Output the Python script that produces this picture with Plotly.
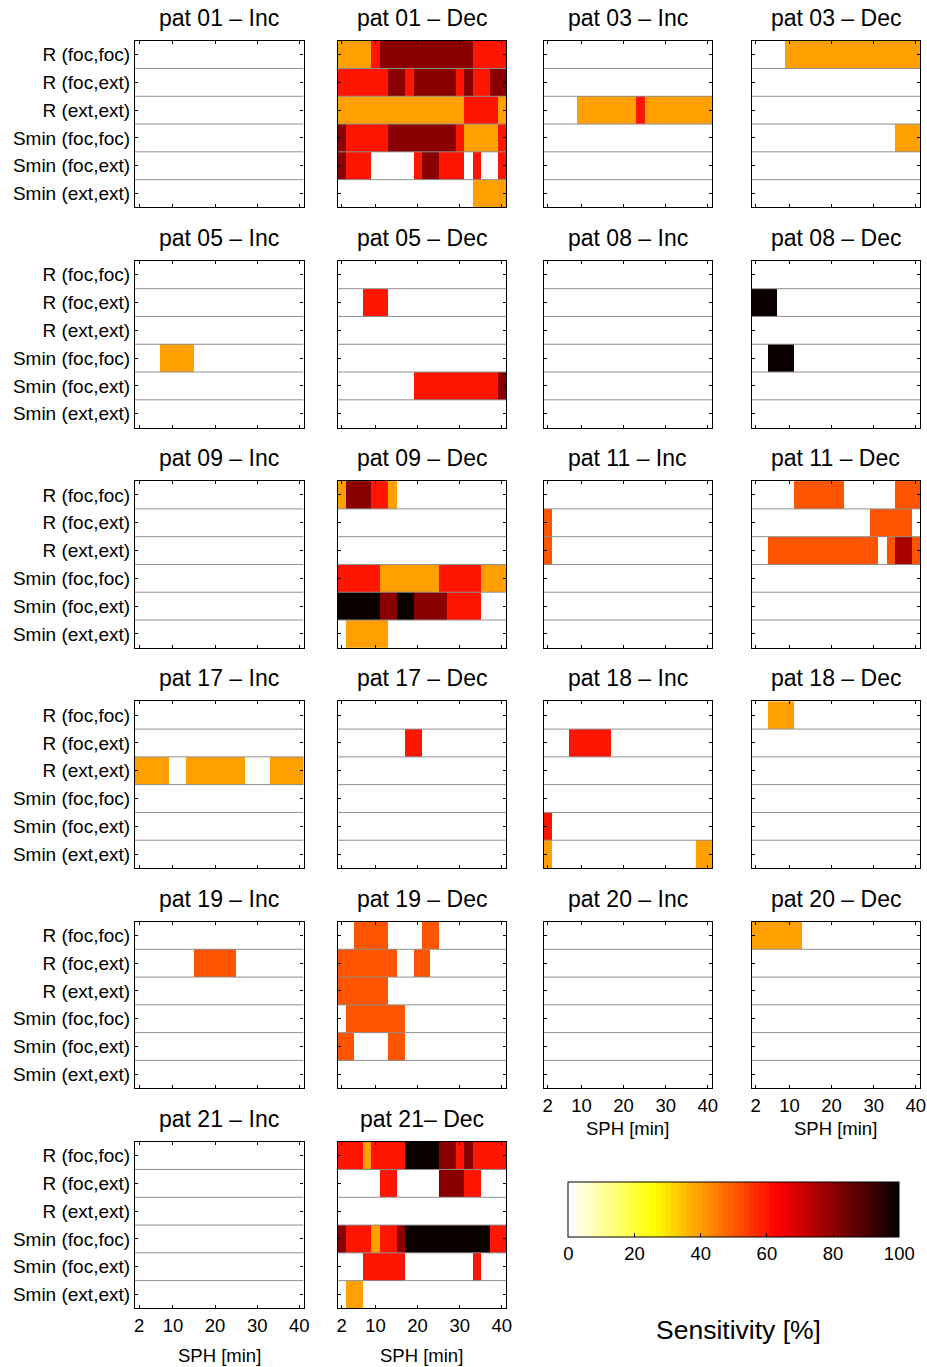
import plotly.graph_objects as go

W, H = 927, 1367
FONT = "Liberation Sans, Arial, Helvetica, sans-serif"

# ---- data ------------------------------------------------------------
SPH = [2, 4, 6, 8, 10, 12, 14, 16, 18, 20, 22, 24, 26, 28, 30, 32, 34, 36, 38, 40]
FEATURES = ["R (foc,foc)", "R (foc,ext)", "R (ext,ext)",
            "Smin (foc,foc)", "Smin (foc,ext)", "Smin (ext,ext)"]
X_TICKS = [2, 10, 20, 30, 40]
CBAR_TICKS = [0, 20, 40, 60, 80, 100]

# sensitivity [%] per feature (rows) and SPH (columns)
pat01_inc = [
    [0, 0, 0, 0, 0, 0, 0, 0, 0, 0, 0, 0, 0, 0, 0, 0, 0, 0, 0, 0],
    [0, 0, 0, 0, 0, 0, 0, 0, 0, 0, 0, 0, 0, 0, 0, 0, 0, 0, 0, 0],
    [0, 0, 0, 0, 0, 0, 0, 0, 0, 0, 0, 0, 0, 0, 0, 0, 0, 0, 0, 0],
    [0, 0, 0, 0, 0, 0, 0, 0, 0, 0, 0, 0, 0, 0, 0, 0, 0, 0, 0, 0],
    [0, 0, 0, 0, 0, 0, 0, 0, 0, 0, 0, 0, 0, 0, 0, 0, 0, 0, 0, 0],
    [0, 0, 0, 0, 0, 0, 0, 0, 0, 0, 0, 0, 0, 0, 0, 0, 0, 0, 0, 0],
]
pat01_dec = [
    [40, 40, 40, 40, 60, 80, 80, 80, 80, 80, 80, 80, 80, 80, 80, 80, 60, 60, 60, 60],
    [60, 60, 60, 60, 60, 60, 80, 80, 60, 80, 80, 80, 80, 80, 60, 80, 60, 60, 80, 80],
    [40, 40, 40, 40, 40, 40, 40, 40, 40, 40, 40, 40, 40, 40, 40, 60, 60, 60, 60, 40],
    [80, 60, 60, 60, 60, 60, 80, 80, 80, 80, 80, 80, 80, 80, 60, 40, 40, 40, 40, 60],
    [80, 60, 60, 60, 0, 0, 0, 0, 0, 60, 80, 80, 60, 60, 60, 0, 60, 0, 0, 60],
    [0, 0, 0, 0, 0, 0, 0, 0, 0, 0, 0, 0, 0, 0, 0, 0, 40, 40, 40, 40],
]
pat03_inc = [
    [0, 0, 0, 0, 0, 0, 0, 0, 0, 0, 0, 0, 0, 0, 0, 0, 0, 0, 0, 0],
    [0, 0, 0, 0, 0, 0, 0, 0, 0, 0, 0, 0, 0, 0, 0, 0, 0, 0, 0, 0],
    [0, 0, 0, 0, 40, 40, 40, 40, 40, 40, 40, 60, 40, 40, 40, 40, 40, 40, 40, 40],
    [0, 0, 0, 0, 0, 0, 0, 0, 0, 0, 0, 0, 0, 0, 0, 0, 0, 0, 0, 0],
    [0, 0, 0, 0, 0, 0, 0, 0, 0, 0, 0, 0, 0, 0, 0, 0, 0, 0, 0, 0],
    [0, 0, 0, 0, 0, 0, 0, 0, 0, 0, 0, 0, 0, 0, 0, 0, 0, 0, 0, 0],
]
pat03_dec = [
    [0, 0, 0, 0, 40, 40, 40, 40, 40, 40, 40, 40, 40, 40, 40, 40, 40, 40, 40, 40],
    [0, 0, 0, 0, 0, 0, 0, 0, 0, 0, 0, 0, 0, 0, 0, 0, 0, 0, 0, 0],
    [0, 0, 0, 0, 0, 0, 0, 0, 0, 0, 0, 0, 0, 0, 0, 0, 0, 0, 0, 0],
    [0, 0, 0, 0, 0, 0, 0, 0, 0, 0, 0, 0, 0, 0, 0, 0, 0, 40, 40, 40],
    [0, 0, 0, 0, 0, 0, 0, 0, 0, 0, 0, 0, 0, 0, 0, 0, 0, 0, 0, 0],
    [0, 0, 0, 0, 0, 0, 0, 0, 0, 0, 0, 0, 0, 0, 0, 0, 0, 0, 0, 0],
]
pat05_inc = [
    [0, 0, 0, 0, 0, 0, 0, 0, 0, 0, 0, 0, 0, 0, 0, 0, 0, 0, 0, 0],
    [0, 0, 0, 0, 0, 0, 0, 0, 0, 0, 0, 0, 0, 0, 0, 0, 0, 0, 0, 0],
    [0, 0, 0, 0, 0, 0, 0, 0, 0, 0, 0, 0, 0, 0, 0, 0, 0, 0, 0, 0],
    [0, 0, 0, 40, 40, 40, 40, 0, 0, 0, 0, 0, 0, 0, 0, 0, 0, 0, 0, 0],
    [0, 0, 0, 0, 0, 0, 0, 0, 0, 0, 0, 0, 0, 0, 0, 0, 0, 0, 0, 0],
    [0, 0, 0, 0, 0, 0, 0, 0, 0, 0, 0, 0, 0, 0, 0, 0, 0, 0, 0, 0],
]
pat05_dec = [
    [0, 0, 0, 0, 0, 0, 0, 0, 0, 0, 0, 0, 0, 0, 0, 0, 0, 0, 0, 0],
    [0, 0, 0, 60, 60, 60, 0, 0, 0, 0, 0, 0, 0, 0, 0, 0, 0, 0, 0, 0],
    [0, 0, 0, 0, 0, 0, 0, 0, 0, 0, 0, 0, 0, 0, 0, 0, 0, 0, 0, 0],
    [0, 0, 0, 0, 0, 0, 0, 0, 0, 0, 0, 0, 0, 0, 0, 0, 0, 0, 0, 0],
    [0, 0, 0, 0, 0, 0, 0, 0, 0, 60, 60, 60, 60, 60, 60, 60, 60, 60, 60, 80],
    [0, 0, 0, 0, 0, 0, 0, 0, 0, 0, 0, 0, 0, 0, 0, 0, 0, 0, 0, 0],
]
pat08_inc = [
    [0, 0, 0, 0, 0, 0, 0, 0, 0, 0, 0, 0, 0, 0, 0, 0, 0, 0, 0, 0],
    [0, 0, 0, 0, 0, 0, 0, 0, 0, 0, 0, 0, 0, 0, 0, 0, 0, 0, 0, 0],
    [0, 0, 0, 0, 0, 0, 0, 0, 0, 0, 0, 0, 0, 0, 0, 0, 0, 0, 0, 0],
    [0, 0, 0, 0, 0, 0, 0, 0, 0, 0, 0, 0, 0, 0, 0, 0, 0, 0, 0, 0],
    [0, 0, 0, 0, 0, 0, 0, 0, 0, 0, 0, 0, 0, 0, 0, 0, 0, 0, 0, 0],
    [0, 0, 0, 0, 0, 0, 0, 0, 0, 0, 0, 0, 0, 0, 0, 0, 0, 0, 0, 0],
]
pat08_dec = [
    [0, 0, 0, 0, 0, 0, 0, 0, 0, 0, 0, 0, 0, 0, 0, 0, 0, 0, 0, 0],
    [100, 100, 100, 0, 0, 0, 0, 0, 0, 0, 0, 0, 0, 0, 0, 0, 0, 0, 0, 0],
    [0, 0, 0, 0, 0, 0, 0, 0, 0, 0, 0, 0, 0, 0, 0, 0, 0, 0, 0, 0],
    [0, 0, 100, 100, 100, 0, 0, 0, 0, 0, 0, 0, 0, 0, 0, 0, 0, 0, 0, 0],
    [0, 0, 0, 0, 0, 0, 0, 0, 0, 0, 0, 0, 0, 0, 0, 0, 0, 0, 0, 0],
    [0, 0, 0, 0, 0, 0, 0, 0, 0, 0, 0, 0, 0, 0, 0, 0, 0, 0, 0, 0],
]
pat09_inc = [
    [0, 0, 0, 0, 0, 0, 0, 0, 0, 0, 0, 0, 0, 0, 0, 0, 0, 0, 0, 0],
    [0, 0, 0, 0, 0, 0, 0, 0, 0, 0, 0, 0, 0, 0, 0, 0, 0, 0, 0, 0],
    [0, 0, 0, 0, 0, 0, 0, 0, 0, 0, 0, 0, 0, 0, 0, 0, 0, 0, 0, 0],
    [0, 0, 0, 0, 0, 0, 0, 0, 0, 0, 0, 0, 0, 0, 0, 0, 0, 0, 0, 0],
    [0, 0, 0, 0, 0, 0, 0, 0, 0, 0, 0, 0, 0, 0, 0, 0, 0, 0, 0, 0],
    [0, 0, 0, 0, 0, 0, 0, 0, 0, 0, 0, 0, 0, 0, 0, 0, 0, 0, 0, 0],
]
pat09_dec = [
    [40, 80, 80, 80, 60, 60, 40, 0, 0, 0, 0, 0, 0, 0, 0, 0, 0, 0, 0, 0],
    [0, 0, 0, 0, 0, 0, 0, 0, 0, 0, 0, 0, 0, 0, 0, 0, 0, 0, 0, 0],
    [0, 0, 0, 0, 0, 0, 0, 0, 0, 0, 0, 0, 0, 0, 0, 0, 0, 0, 0, 0],
    [60, 60, 60, 60, 60, 40, 40, 40, 40, 40, 40, 40, 60, 60, 60, 60, 60, 40, 40, 40],
    [100, 100, 100, 100, 100, 80, 80, 100, 100, 80, 80, 80, 80, 60, 60, 60, 60, 0, 0, 0],
    [0, 40, 40, 40, 40, 40, 0, 0, 0, 0, 0, 0, 0, 0, 0, 0, 0, 0, 0, 0],
]
pat11_inc = [
    [0, 0, 0, 0, 0, 0, 0, 0, 0, 0, 0, 0, 0, 0, 0, 0, 0, 0, 0, 0],
    [50, 0, 0, 0, 0, 0, 0, 0, 0, 0, 0, 0, 0, 0, 0, 0, 0, 0, 0, 0],
    [50, 0, 0, 0, 0, 0, 0, 0, 0, 0, 0, 0, 0, 0, 0, 0, 0, 0, 0, 0],
    [0, 0, 0, 0, 0, 0, 0, 0, 0, 0, 0, 0, 0, 0, 0, 0, 0, 0, 0, 0],
    [0, 0, 0, 0, 0, 0, 0, 0, 0, 0, 0, 0, 0, 0, 0, 0, 0, 0, 0, 0],
    [0, 0, 0, 0, 0, 0, 0, 0, 0, 0, 0, 0, 0, 0, 0, 0, 0, 0, 0, 0],
]
pat11_dec = [
    [0, 0, 0, 0, 0, 50, 50, 50, 50, 50, 50, 0, 0, 0, 0, 0, 0, 50, 50, 50],
    [0, 0, 0, 0, 0, 0, 0, 0, 0, 0, 0, 0, 0, 0, 50, 50, 50, 50, 50, 0],
    [0, 0, 50, 50, 50, 50, 50, 50, 50, 50, 50, 50, 50, 50, 50, 0, 50, 75, 75, 50],
    [0, 0, 0, 0, 0, 0, 0, 0, 0, 0, 0, 0, 0, 0, 0, 0, 0, 0, 0, 0],
    [0, 0, 0, 0, 0, 0, 0, 0, 0, 0, 0, 0, 0, 0, 0, 0, 0, 0, 0, 0],
    [0, 0, 0, 0, 0, 0, 0, 0, 0, 0, 0, 0, 0, 0, 0, 0, 0, 0, 0, 0],
]
pat17_inc = [
    [0, 0, 0, 0, 0, 0, 0, 0, 0, 0, 0, 0, 0, 0, 0, 0, 0, 0, 0, 0],
    [0, 0, 0, 0, 0, 0, 0, 0, 0, 0, 0, 0, 0, 0, 0, 0, 0, 0, 0, 0],
    [40, 40, 40, 40, 0, 0, 40, 40, 40, 40, 40, 40, 40, 0, 0, 0, 40, 40, 40, 40],
    [0, 0, 0, 0, 0, 0, 0, 0, 0, 0, 0, 0, 0, 0, 0, 0, 0, 0, 0, 0],
    [0, 0, 0, 0, 0, 0, 0, 0, 0, 0, 0, 0, 0, 0, 0, 0, 0, 0, 0, 0],
    [0, 0, 0, 0, 0, 0, 0, 0, 0, 0, 0, 0, 0, 0, 0, 0, 0, 0, 0, 0],
]
pat17_dec = [
    [0, 0, 0, 0, 0, 0, 0, 0, 0, 0, 0, 0, 0, 0, 0, 0, 0, 0, 0, 0],
    [0, 0, 0, 0, 0, 0, 0, 0, 60, 60, 0, 0, 0, 0, 0, 0, 0, 0, 0, 0],
    [0, 0, 0, 0, 0, 0, 0, 0, 0, 0, 0, 0, 0, 0, 0, 0, 0, 0, 0, 0],
    [0, 0, 0, 0, 0, 0, 0, 0, 0, 0, 0, 0, 0, 0, 0, 0, 0, 0, 0, 0],
    [0, 0, 0, 0, 0, 0, 0, 0, 0, 0, 0, 0, 0, 0, 0, 0, 0, 0, 0, 0],
    [0, 0, 0, 0, 0, 0, 0, 0, 0, 0, 0, 0, 0, 0, 0, 0, 0, 0, 0, 0],
]
pat18_inc = [
    [0, 0, 0, 0, 0, 0, 0, 0, 0, 0, 0, 0, 0, 0, 0, 0, 0, 0, 0, 0],
    [0, 0, 0, 60, 60, 60, 60, 60, 0, 0, 0, 0, 0, 0, 0, 0, 0, 0, 0, 0],
    [0, 0, 0, 0, 0, 0, 0, 0, 0, 0, 0, 0, 0, 0, 0, 0, 0, 0, 0, 0],
    [0, 0, 0, 0, 0, 0, 0, 0, 0, 0, 0, 0, 0, 0, 0, 0, 0, 0, 0, 0],
    [60, 0, 0, 0, 0, 0, 0, 0, 0, 0, 0, 0, 0, 0, 0, 0, 0, 0, 0, 0],
    [40, 0, 0, 0, 0, 0, 0, 0, 0, 0, 0, 0, 0, 0, 0, 0, 0, 0, 40, 40],
]
pat18_dec = [
    [0, 0, 40, 40, 40, 0, 0, 0, 0, 0, 0, 0, 0, 0, 0, 0, 0, 0, 0, 0],
    [0, 0, 0, 0, 0, 0, 0, 0, 0, 0, 0, 0, 0, 0, 0, 0, 0, 0, 0, 0],
    [0, 0, 0, 0, 0, 0, 0, 0, 0, 0, 0, 0, 0, 0, 0, 0, 0, 0, 0, 0],
    [0, 0, 0, 0, 0, 0, 0, 0, 0, 0, 0, 0, 0, 0, 0, 0, 0, 0, 0, 0],
    [0, 0, 0, 0, 0, 0, 0, 0, 0, 0, 0, 0, 0, 0, 0, 0, 0, 0, 0, 0],
    [0, 0, 0, 0, 0, 0, 0, 0, 0, 0, 0, 0, 0, 0, 0, 0, 0, 0, 0, 0],
]
pat19_inc = [
    [0, 0, 0, 0, 0, 0, 0, 0, 0, 0, 0, 0, 0, 0, 0, 0, 0, 0, 0, 0],
    [0, 0, 0, 0, 0, 0, 0, 50, 50, 50, 50, 50, 0, 0, 0, 0, 0, 0, 0, 0],
    [0, 0, 0, 0, 0, 0, 0, 0, 0, 0, 0, 0, 0, 0, 0, 0, 0, 0, 0, 0],
    [0, 0, 0, 0, 0, 0, 0, 0, 0, 0, 0, 0, 0, 0, 0, 0, 0, 0, 0, 0],
    [0, 0, 0, 0, 0, 0, 0, 0, 0, 0, 0, 0, 0, 0, 0, 0, 0, 0, 0, 0],
    [0, 0, 0, 0, 0, 0, 0, 0, 0, 0, 0, 0, 0, 0, 0, 0, 0, 0, 0, 0],
]
pat19_dec = [
    [0, 0, 50, 50, 50, 50, 0, 0, 0, 0, 50, 50, 0, 0, 0, 0, 0, 0, 0, 0],
    [50, 50, 50, 50, 50, 50, 50, 0, 0, 50, 50, 0, 0, 0, 0, 0, 0, 0, 0, 0],
    [50, 50, 50, 50, 50, 50, 0, 0, 0, 0, 0, 0, 0, 0, 0, 0, 0, 0, 0, 0],
    [0, 50, 50, 50, 50, 50, 50, 50, 0, 0, 0, 0, 0, 0, 0, 0, 0, 0, 0, 0],
    [50, 50, 0, 0, 0, 0, 50, 50, 0, 0, 0, 0, 0, 0, 0, 0, 0, 0, 0, 0],
    [0, 0, 0, 0, 0, 0, 0, 0, 0, 0, 0, 0, 0, 0, 0, 0, 0, 0, 0, 0],
]
pat20_inc = [
    [0, 0, 0, 0, 0, 0, 0, 0, 0, 0, 0, 0, 0, 0, 0, 0, 0, 0, 0, 0],
    [0, 0, 0, 0, 0, 0, 0, 0, 0, 0, 0, 0, 0, 0, 0, 0, 0, 0, 0, 0],
    [0, 0, 0, 0, 0, 0, 0, 0, 0, 0, 0, 0, 0, 0, 0, 0, 0, 0, 0, 0],
    [0, 0, 0, 0, 0, 0, 0, 0, 0, 0, 0, 0, 0, 0, 0, 0, 0, 0, 0, 0],
    [0, 0, 0, 0, 0, 0, 0, 0, 0, 0, 0, 0, 0, 0, 0, 0, 0, 0, 0, 0],
    [0, 0, 0, 0, 0, 0, 0, 0, 0, 0, 0, 0, 0, 0, 0, 0, 0, 0, 0, 0],
]
pat20_dec = [
    [40, 40, 40, 40, 40, 40, 0, 0, 0, 0, 0, 0, 0, 0, 0, 0, 0, 0, 0, 0],
    [0, 0, 0, 0, 0, 0, 0, 0, 0, 0, 0, 0, 0, 0, 0, 0, 0, 0, 0, 0],
    [0, 0, 0, 0, 0, 0, 0, 0, 0, 0, 0, 0, 0, 0, 0, 0, 0, 0, 0, 0],
    [0, 0, 0, 0, 0, 0, 0, 0, 0, 0, 0, 0, 0, 0, 0, 0, 0, 0, 0, 0],
    [0, 0, 0, 0, 0, 0, 0, 0, 0, 0, 0, 0, 0, 0, 0, 0, 0, 0, 0, 0],
    [0, 0, 0, 0, 0, 0, 0, 0, 0, 0, 0, 0, 0, 0, 0, 0, 0, 0, 0, 0],
]
pat21_inc = [
    [0, 0, 0, 0, 0, 0, 0, 0, 0, 0, 0, 0, 0, 0, 0, 0, 0, 0, 0, 0],
    [0, 0, 0, 0, 0, 0, 0, 0, 0, 0, 0, 0, 0, 0, 0, 0, 0, 0, 0, 0],
    [0, 0, 0, 0, 0, 0, 0, 0, 0, 0, 0, 0, 0, 0, 0, 0, 0, 0, 0, 0],
    [0, 0, 0, 0, 0, 0, 0, 0, 0, 0, 0, 0, 0, 0, 0, 0, 0, 0, 0, 0],
    [0, 0, 0, 0, 0, 0, 0, 0, 0, 0, 0, 0, 0, 0, 0, 0, 0, 0, 0, 0],
    [0, 0, 0, 0, 0, 0, 0, 0, 0, 0, 0, 0, 0, 0, 0, 0, 0, 0, 0, 0],
]
pat21_dec = [
    [60, 60, 60, 40, 60, 60, 60, 60, 100, 100, 100, 100, 80, 80, 60, 80, 60, 60, 60, 60],
    [0, 0, 0, 0, 0, 60, 60, 0, 0, 0, 0, 0, 80, 80, 80, 60, 60, 0, 0, 0],
    [0, 0, 0, 0, 0, 0, 0, 0, 0, 0, 0, 0, 0, 0, 0, 0, 0, 0, 0, 0],
    [80, 60, 60, 60, 40, 60, 60, 80, 100, 100, 100, 100, 100, 100, 100, 100, 100, 100, 60, 60],
    [0, 0, 0, 60, 60, 60, 60, 60, 0, 0, 0, 0, 0, 0, 0, 0, 60, 0, 0, 0],
    [0, 40, 40, 0, 0, 0, 0, 0, 0, 0, 0, 0, 0, 0, 0, 0, 0, 0, 0, 0],
]

# (title, matrix, grid row, grid column)
PANELS = [
    ("pat 01 \u2013 Inc", pat01_inc, 0, 0), ("pat 01 \u2013 Dec", pat01_dec, 0, 1),
    ("pat 03 \u2013 Inc", pat03_inc, 0, 2), ("pat 03 \u2013 Dec", pat03_dec, 0, 3),
    ("pat 05 \u2013 Inc", pat05_inc, 1, 0), ("pat 05 \u2013 Dec", pat05_dec, 1, 1),
    ("pat 08 \u2013 Inc", pat08_inc, 1, 2), ("pat 08 \u2013 Dec", pat08_dec, 1, 3),
    ("pat 09 \u2013 Inc", pat09_inc, 2, 0), ("pat 09 \u2013 Dec", pat09_dec, 2, 1),
    ("pat 11 \u2013 Inc", pat11_inc, 2, 2), ("pat 11 \u2013 Dec", pat11_dec, 2, 3),
    ("pat 17 \u2013 Inc", pat17_inc, 3, 0), ("pat 17 \u2013 Dec", pat17_dec, 3, 1),
    ("pat 18 \u2013 Inc", pat18_inc, 3, 2), ("pat 18 \u2013 Dec", pat18_dec, 3, 3),
    ("pat 19 \u2013 Inc", pat19_inc, 4, 0), ("pat 19 \u2013 Dec", pat19_dec, 4, 1),
    ("pat 20 \u2013 Inc", pat20_inc, 4, 2), ("pat 20 \u2013 Dec", pat20_dec, 4, 3),
    ("pat 21 \u2013 Inc", pat21_inc, 5, 0), ("pat 21\u2013 Dec", pat21_dec, 5, 1),
]
# panels that carry x tick labels and the SPH axis title
BOTTOM_PANELS = {(5, 0), (5, 1), (4, 2), (4, 3)}

# ---- layout geometry (pixels) ----------------------------------------
COL_LEFT = [135.0, 337.5, 543.5, 751.5]
ROW_TOP = [40.7, 260.9, 481.1, 701.3, 921.5, 1141.7]
PW, PH = 168.5, 166.7
CBAR_LEFT, CBAR_RIGHT, CBAR_TOP, CBAR_BOTTOM = 568.3, 899.3, 1182.3, 1237.7


def px_x(x):
    return x / W


def px_y(y):
    return 1 - y / H


# flipped 64-level "hot" colour map (white -> yellow -> red -> black)
def hot_reversed_scale(n=64):
    n1 = n2 = int(3 * n / 8)
    n3 = n - n1 - n2
    cols = []
    for j in range(1, n + 1):
        r = min(j / n1, 1.0)
        g = min(max((j - n1) / n2, 0.0), 1.0)
        b = min(max((j - n1 - n2) / n3, 0.0), 1.0)
        cols.append("rgb(%d,%d,%d)" % (round(r * 255), round(g * 255), round(b * 255)))
    cols = cols[::-1]
    scale = []
    for i, c in enumerate(cols):
        scale.append([i / n, c])
        scale.append([(i + 1) / n, c])
    return scale


CSCALE = hot_reversed_scale()

fig = go.Figure()
layout = dict(
    width=W, height=H, autosize=False,
    margin=dict(l=0, r=0, t=0, b=0, pad=0, autoexpand=False),
    paper_bgcolor="white", plot_bgcolor="white",
    font=dict(family=FONT, color="black"),
    showlegend=False,
)
shapes, annotations = [], []

for i, (title, z, r, c) in enumerate(PANELS):
    k = i + 1
    xa, ya = ("x", "y") if k == 1 else (f"x{k}", f"y{k}")
    xkey, ykey = ("xaxis", "yaxis") if k == 1 else (f"xaxis{k}", f"yaxis{k}")
    left, top = COL_LEFT[c], ROW_TOP[r]
    bottom_labels = (r, c) in BOTTOM_PANELS

    fig.add_trace(go.Heatmap(
        z=z, x=SPH, y=list(range(len(FEATURES))),
        xaxis=xa, yaxis=ya,
        zmin=0, zmax=100, colorscale=CSCALE,
        showscale=(i == 0),
        hoverinfo="skip",
        colorbar=dict(
            orientation="h",
            x=px_x((CBAR_LEFT + CBAR_RIGHT) / 2), xanchor="center",
            y=px_y(CBAR_TOP), yanchor="top",
            lenmode="pixels", len=CBAR_RIGHT - CBAR_LEFT,
            thicknessmode="pixels", thickness=CBAR_BOTTOM - CBAR_TOP,
            xpad=0, ypad=0,
            outlinecolor="black", outlinewidth=1,
            tickvals=CBAR_TICKS, ticks="inside", ticklen=4,
            tickcolor="black", tickwidth=1,
            tickfont=dict(family=FONT, size=18.5, color="black"),
        ),
    ))

    layout[xkey] = dict(
        domain=[px_x(left), px_x(left + PW)], anchor=ya,
        range=[1, 41], tickvals=X_TICKS, ticktext=[str(t) for t in X_TICKS],
        ticks="inside", ticklen=3, tickwidth=1, tickcolor="black",
        mirror="allticks", showline=True, linecolor="black", linewidth=1.2,
        showgrid=False, zeroline=False, fixedrange=True,
        showticklabels=bottom_labels,
        tickfont=dict(family=FONT, size=18.5, color="black"),
    )
    layout[ykey] = dict(
        domain=[px_y(top + PH), px_y(top)], anchor=xa,
        range=[5.5, -0.5], tickvals=list(range(len(FEATURES))), ticktext=FEATURES,
        ticks="inside", ticklen=3, tickwidth=1, tickcolor="black",
        mirror="allticks", showline=True, linecolor="black", linewidth=1.2,
        showgrid=False, zeroline=False, fixedrange=True,
        showticklabels=(c == 0),
        tickfont=dict(family=FONT, size=19, color="black"),
    )

    # grey separators between feature rows
    for b in range(len(FEATURES) - 1):
        shapes.append(dict(
            type="line", xref=xa, yref=ya, x0=1, x1=41, y0=b + 0.5, y1=b + 0.5,
            line=dict(color="#8f8f8f", width=1), layer="above",
        ))

    annotations.append(dict(
        text=title, xref="paper", yref="paper",
        x=px_x(left + PW / 2), y=px_y(top - 23), xanchor="center", yanchor="middle",
        showarrow=False, font=dict(family=FONT, size=23, color="black"),
    ))
    if bottom_labels:
        gap = 47 if r == 5 else 40
        annotations.append(dict(
            text="SPH [min]", xref="paper", yref="paper",
            x=px_x(left + PW / 2), y=px_y(top + PH + gap), xanchor="center", yanchor="middle",
            showarrow=False, font=dict(family=FONT, size=18.5, color="black"),
        ))

# tick marks along the upper edge of the colour bar
for t in CBAR_TICKS[1:-1]:
    xt = CBAR_LEFT + (CBAR_RIGHT - CBAR_LEFT) * t / 100
    shapes.append(dict(
        type="line", xref="paper", yref="paper",
        x0=px_x(xt), x1=px_x(xt), y0=px_y(CBAR_TOP), y1=px_y(CBAR_TOP + 4),
        line=dict(color="black", width=1), layer="above",
    ))

annotations.append(dict(
    text="Sensitivity [%]", xref="paper", yref="paper",
    x=px_x(738), y=px_y(1330), xanchor="center", yanchor="middle",
    showarrow=False, font=dict(family=FONT, size=26.5, color="black"),
))

layout["shapes"] = shapes
layout["annotations"] = annotations
fig.update_layout(**layout)

fig.write_html("out.html")
